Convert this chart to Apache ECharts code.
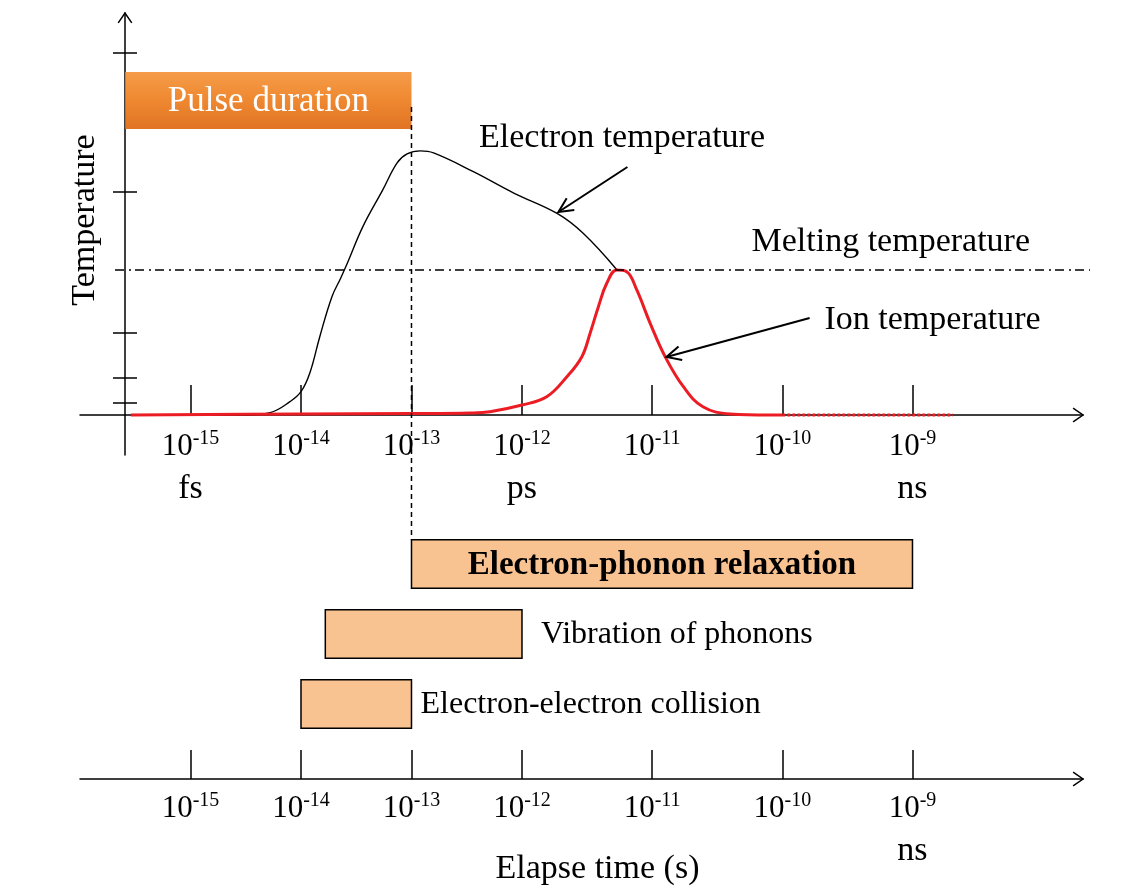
<!DOCTYPE html>
<html>
<head>
<meta charset="utf-8">
<script src="https://cdn.jsdelivr.net/npm/echarts@6/dist/echarts.min.js"></script>
<style>
html,body{margin:0;padding:0;background:#fff;}
#c{width:1145px;height:888px;}
</style>
</head>
<body>
<div id="c"></div>
<script>
// ---------------- data (time = log10 of seconds, temperature relative to melting) ----------------
const decades = [-15, -14, -13, -12, -11, -10, -9];
const topUnitLabels = ['fs', '', '', 'ps', '', '', 'ns'];
const bottomUnitLabels = ['', '', '', '', '', '', 'ns'];

const electronLogT = [-15.54, -14.49, -14.28, -14.10, -14.00, -13.92, -13.83, -13.72, -13.64, -13.58,
                      -13.44, -13.26, -13.13, -13.04, -12.92, -12.80, -12.44, -12.07, -11.73,
                      -11.53, -11.27];
const electronTemp = [0, 0, 0.016, 0.092, 0.161, 0.29, 0.54, 0.816, 0.945, 1.048,
                      1.299, 1.552, 1.738, 1.80, 1.821, 1.807, 1.678, 1.529, 1.39,
                      1.253, 1.0];

const ionLogT = [-15.54, -14.0, -13.0, -12.47, -12.29, -12.0, -11.81, -11.655, -11.54, -11.476,
                 -11.413, -11.348, -11.272, -11.195, -11.118, -11.016, -10.90, -10.76, -10.61, -10.40,
                 -10.10, -10.0];
const ionTemp = [0, 0.007, 0.01, 0.014, 0.023, 0.069, 0.126, 0.264, 0.402, 0.566,
                 0.747, 0.91, 1.0, 0.988, 0.862, 0.634, 0.402, 0.195, 0.057, 0.007,
                 0, 0];

const ionTailLogT = [-10.0, -8.69];
const ionTailTemp = [0, 0];

const meltingTemp = 1.0;
const tempTicks = [0.085, 0.255, 0.57, 1.54, 2.5];

const pulseLogT = [-15.59, -13];

const processNames = ['Electron-phonon relaxation', 'Vibration of phonons', 'Electron-electron collision'];
const processStart = [-13, -13.78, -14];
const processEnd = [-9, -12, -13];

// ---------------- layout / scale helpers ----------------
const STRETCH = 1.178;            // the schematic draws decades after 1 ps wider
const pos = e => (e <= -12 ? e : -12 + (e + 12) * STRETCH);
const unpos = p => (p <= -12 ? p : -12 + (p + 12) / STRETCH);
const X_MIN = pos(-16), X_MAX = pos(-7.69);
const Y_MIN = -0.276, Y_MAX = 2.772;
const PULSE_BAND = [1.972, 2.366];
const BAR_HEIGHT = 0.69;
const LABEL_GAP = [0, 19, 9];
const FONT = 'Liberation Serif';
const RED = '#ec1c24';
const PEACH = '#f9c291';

const tickRich = {
  b: {fontFamily: FONT, fontSize: 31, lineHeight: 36, color: '#000'},
  s: {fontFamily: FONT, fontSize: 20, verticalAlign: 'top', color: '#000'},
  u: {fontFamily: FONT, fontSize: 34, lineHeight: 48, color: '#000'}
};
function tickFormatter(units) {
  return function (p) {
    const e = Math.round(unpos(p));
    const u = units[decades.indexOf(e)];
    return '{b|10}{s|' + e + '}' + (u ? '\n{u|' + u + '}' : '');
  };
}
const decadePos = decades.map(pos);

const chart = echarts.init(document.getElementById('c'), null, {renderer: 'canvas'});

const option = {
  animation: false,
  backgroundColor: '#fff',
  grid: [
    // curves: bottom edge of this grid is the temperature = 0 line
    {left: 80, right: 62, top: 13, bottom: 473, outerBoundsMode: 'none', containLabel: false},
    // temperature axis (extends below the time axis)
    {left: 125, right: 62, top: 13, bottom: 433, outerBoundsMode: 'none', containLabel: false},
    // process bars + lower time axis
    {left: 80, right: 62, top: 529, bottom: 109, outerBoundsMode: 'none', containLabel: false},
    {left: 125, right: 62, top: 13, bottom: 433, outerBoundsMode: 'none', containLabel: false}
  ],
  xAxis: [
    {
      gridIndex: 0, type: 'value', min: X_MIN, max: X_MAX, position: 'bottom',
      axisLine: {show: true, onZero: false, lineStyle: {color: '#000', width: 1.5}},
      axisTick: {show: true, inside: true, length: 30, customValues: decadePos, lineStyle: {color: '#000', width: 1.5}},
      axisLabel: {show: true, customValues: decadePos, margin: 14, formatter: tickFormatter(topUnitLabels), rich: tickRich, color: '#000'},
      splitLine: {show: false}
    },
    {gridIndex: 1, type: 'value', min: 0, max: 1, show: false},
    {
      gridIndex: 2, type: 'value', min: X_MIN, max: X_MAX, position: 'bottom',
      axisLine: {show: true, onZero: false, lineStyle: {color: '#000', width: 1.5}},
      axisTick: {show: true, inside: true, length: 29, customValues: decadePos, lineStyle: {color: '#000', width: 1.5}},
      axisLabel: {show: true, customValues: decadePos, margin: 12, formatter: tickFormatter(bottomUnitLabels), rich: tickRich, color: '#000'},
      splitLine: {show: false},
      name: 'Elapse time (s)', nameLocation: 'middle', nameGap: 73, nameMoveOverlap: false,
      nameTextStyle: {fontFamily: FONT, fontSize: 34, color: '#000', padding: [0, 0, 0, 32]}
    },
    {gridIndex: 3, type: 'value', min: 0, max: 1, show: false}
  ],
  yAxis: [
    {gridIndex: 0, type: 'value', min: 0, max: Y_MAX, show: false},
    {
      gridIndex: 1, type: 'value', min: Y_MIN, max: Y_MAX, position: 'left',
      axisLine: {show: true, onZero: false, lineStyle: {color: '#000', width: 1.5}},
      axisTick: {show: true, inside: false, length: 12, customValues: tempTicks, lineStyle: {color: '#000', width: 1.5}},
      axisLabel: {show: false},
      splitLine: {show: false}
    },
    {gridIndex: 2, type: 'value', min: -0.5, max: 3.0714, inverse: true, show: false},
    {
      gridIndex: 3, type: 'value', min: Y_MIN, max: Y_MAX, position: 'left',
      axisLine: {show: false, onZero: false},
      axisTick: {show: true, inside: true, length: 12, customValues: tempTicks, lineStyle: {color: '#000', width: 1.5}},
      axisLabel: {show: false},
      splitLine: {show: false}
    }
  ],
  series: [
    {
      type: 'custom', name: 'Pulse duration', xAxisIndex: 0, yAxisIndex: 0,
      encode: {x: [0, 1]},
      data: [[pos(pulseLogT[0]), pos(pulseLogT[1])]],
      z: 1, clip: false,
      renderItem: function (params, api) {
        const a = api.coord([api.value(0), PULSE_BAND[1]]);
        const b = api.coord([api.value(1), PULSE_BAND[0]]);
        return {
          type: 'group',
          children: [
            {
              type: 'rect',
              shape: {x: a[0], y: a[1], width: b[0] - a[0], height: b[1] - a[1]},
              style: {
                fill: {type: 'linear', x: 0, y: 0, x2: 0, y2: 1, colorStops: [
                  {offset: 0, color: '#f59c4a'}, {offset: 0.45, color: '#f08a32'}, {offset: 1, color: '#e07424'}]},
                shadowBlur: 8, shadowOffsetY: 4, shadowColor: 'rgba(0,0,0,0.35)'
              }
            },
            {
              type: 'text', x: (a[0] + b[0]) / 2, y: (a[1] + b[1]) / 2 + 1,
              style: {text: 'Pulse duration', font: '35px "' + FONT + '"', fill: '#fff',
                      align: 'center', verticalAlign: 'middle', textAlign: 'center', textVerticalAlign: 'middle'}
            }
          ]
        };
      }
    },
    {
      type: 'line', name: 'Electron temperature', xAxisIndex: 0, yAxisIndex: 0,
      data: electronLogT.map((e, i) => [pos(e), electronTemp[i]]),
      smooth: 0.4, showSymbol: false, symbol: 'none', clip: false,
      lineStyle: {color: '#000', width: 1.4}, z: 3
    },
    {
      type: 'line', name: 'Ion temperature', xAxisIndex: 0, yAxisIndex: 0,
      data: ionLogT.map((e, i) => [pos(e), ionTemp[i]]),
      smooth: 0.4, showSymbol: false, symbol: 'none', clip: false,
      lineStyle: {color: RED, width: 3}, z: 4
    },
    {
      type: 'line', name: 'Ion temperature tail', xAxisIndex: 0, yAxisIndex: 0,
      data: ionTailLogT.map((e, i) => [pos(e), ionTailTemp[i]]),
      showSymbol: false, symbol: 'none', clip: false,
      lineStyle: {color: RED, width: 3, type: [3, 2]}, z: 4
    },
    {
      type: 'custom', name: 'Processes', xAxisIndex: 2, yAxisIndex: 2,
      encode: {x: [0, 1], y: 2},
      data: processNames.map((n, i) => [pos(processStart[i]), pos(processEnd[i]), i]),
      renderItem: function (params, api) {
        const row = api.value(2);
        const a = api.coord([api.value(0), row]);
        const b = api.coord([api.value(1), row]);
        const h = api.size([0, BAR_HEIGHT])[1];
        const name = processNames[params.dataIndex];
        const rect = {
          type: 'rect',
          shape: {x: a[0], y: a[1] - h / 2, width: b[0] - a[0], height: h},
          style: {fill: PEACH, stroke: '#000', lineWidth: 1.5}
        };
        const text = row === 0 ? {
          type: 'text', x: (a[0] + b[0]) / 2, y: a[1] + 1,
          style: {text: name, font: 'bold 33px "' + FONT + '"', fill: '#000',
                  align: 'center', verticalAlign: 'middle', textAlign: 'center', textVerticalAlign: 'middle'}
        } : {
          type: 'text', x: b[0] + LABEL_GAP[row], y: a[1] + 1,
          style: {text: name, font: '32px "' + FONT + '"', fill: '#000',
                  align: 'left', verticalAlign: 'middle', textAlign: 'left', textVerticalAlign: 'middle'}
        };
        return {type: 'group', children: [rect, text]};
      }
    }
  ]
};
chart.setOption(option);

// ---------------- annotations anchored to the chart's scales ----------------
const P0 = (e, t) => chart.convertToPixel({gridIndex: 0}, [pos(e), t]);
const P2 = (e, r) => chart.convertToPixel({gridIndex: 2}, [pos(e), r]);
const P1 = (x, t) => chart.convertToPixel({gridIndex: 1}, [x, t]);

function arrowHead(tip, from, len, ang, width) {
  const dx = from[0] - tip[0], dy = from[1] - tip[1];
  const d = Math.hypot(dx, dy), ux = dx / d, uy = dy / d;
  const c = Math.cos(ang), s = Math.sin(ang);
  const a1 = [tip[0] + len * (ux * c - uy * s), tip[1] + len * (ux * s + uy * c)];
  const a2 = [tip[0] + len * (ux * c + uy * s), tip[1] + len * (-ux * s + uy * c)];
  return {type: 'polyline', z: 20, shape: {points: [a1, tip, a2]},
          style: {stroke: '#000', lineWidth: width, fill: null, lineJoin: 'miter'}};
}
function line(p, q, w, dash, color) {
  return {type: 'line', z: 20, shape: {x1: p[0], y1: p[1], x2: q[0], y2: q[1]},
          style: {stroke: color || '#000', lineWidth: w, lineDash: dash || null}};
}
function label(text, x, y, size, opts) {
  return Object.assign({
    type: 'text', z: 20, x: x, y: y,
    style: {text: text, font: size + 'px "' + FONT + '"', fill: '#000',
            align: 'left', verticalAlign: 'middle', textAlign: 'left', textVerticalAlign: 'middle'}
  }, opts || {});
}

const g = [];
// axis arrowheads
const xEndTop = P0(unpos(X_MAX), 0);
g.push(arrowHead(xEndTop, [xEndTop[0] - 20, xEndTop[1]], 12, 0.6, 1.5));
const xEndBot = P2(unpos(X_MAX), 3.0714);
g.push(arrowHead(xEndBot, [xEndBot[0] - 20, xEndBot[1]], 12, 0.6, 1.5));
const yTop = P1(0, Y_MAX);
g.push(arrowHead(yTop, [yTop[0], yTop[1] + 20], 12, 0.6, 1.5));

// melting temperature reference line
const meltY = P0(-15, meltingTemp)[1];
g.push(line([yTop[0] - 10, meltY], [xEndTop[0] + 7, meltY], 1.3, [9, 5, 2, 4]));

// dashed marker at end of pulse (1e-13 s), running down to the relaxation bar
const pulseEndTop = P0(pulseLogT[1], 2.124);
const relaxTop = P2(pulseLogT[1], -BAR_HEIGHT / 2);
g.push(line(pulseEndTop, [pulseEndTop[0], relaxTop[1]], 1.5, [5, 4]));

// pointer arrows
const eTip = P0(-11.72, 1.40), eTail = P0(-11.19, 1.71);
g.push(line(eTail, eTip, 2));
g.push(arrowHead(eTip, eTail, 16, 0.45, 2));
const iTip = P0(-10.89, 0.40), iTail = P0(-9.79, 0.669);
g.push(line(iTail, iTip, 2));
g.push(arrowHead(iTip, iTail, 16, 0.45, 2));

// texts
g.push(label('Electron temperature', 479, 138.5, 34));
g.push(label('Melting temperature', 751.5, 242, 34));
g.push(label('Ion temperature', 824.5, 320.5, 34));
g.push(label('Temperature', 85.5, 220, 34, {rotation: Math.PI / 2,
  style: {text: 'Temperature', font: '34px "' + FONT + '"', fill: '#000',
          align: 'center', verticalAlign: 'middle', textAlign: 'center', textVerticalAlign: 'middle'}}));

chart.setOption({graphic: {elements: g}});
</script>
</body>
</html>
